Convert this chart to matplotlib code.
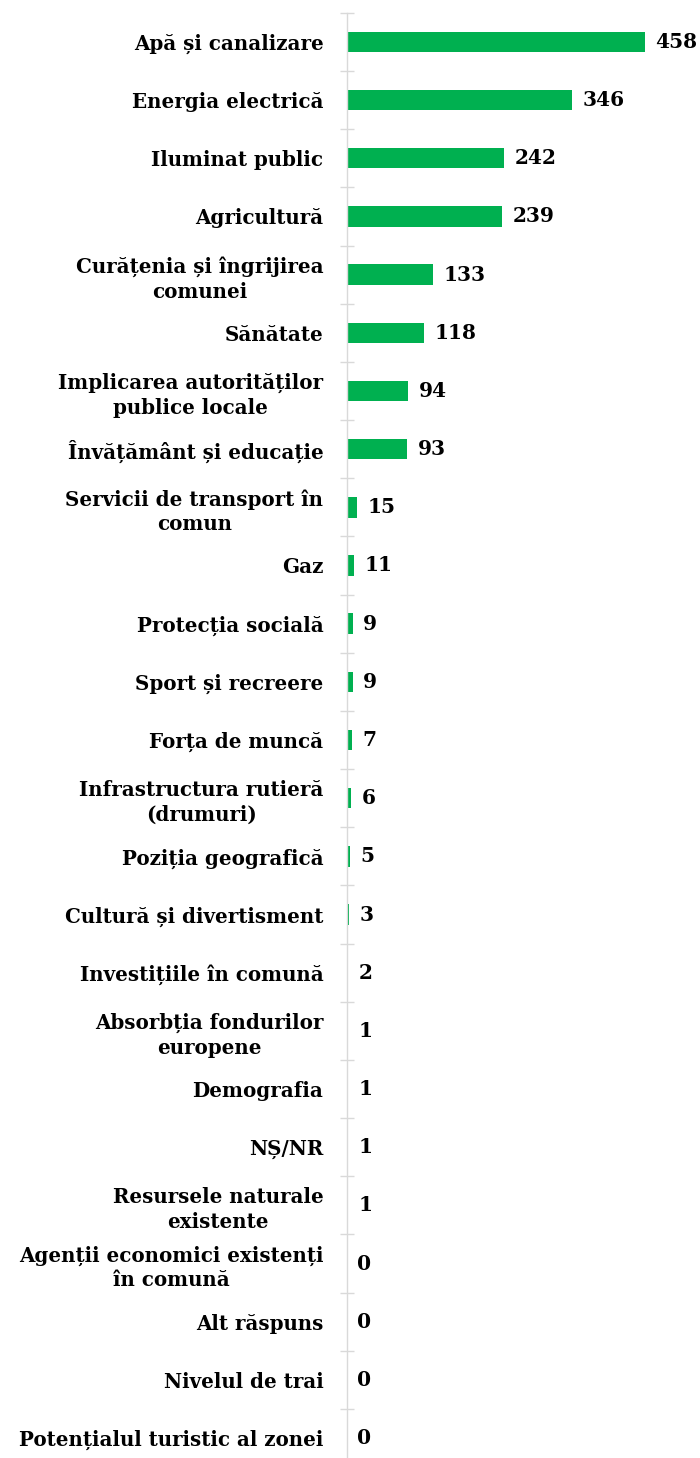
import matplotlib.pyplot as plt
import numpy as np

categories = [
    "Apă și canalizare",
    "Energia electrică",
    "Iluminat public",
    "Agricultură",
    "Curățenia și îngrijirea\ncomunei",
    "Sănătate",
    "Implicarea autorităților\npublice locale",
    "Învățământ și educație",
    "Servicii de transport în\ncomun",
    "Gaz",
    "Protecția socială",
    "Sport și recreere",
    "Forța de muncă",
    "Infrastructura rutieră\n(drumuri)",
    "Poziția geografică",
    "Cultură și divertisment",
    "Investițiile în comună",
    "Absorbția fondurilor\neuropene",
    "Demografia",
    "NȘ/NR",
    "Resursele naturale\nexistente",
    "Agenții economici existenți\nîn comună",
    "Alt răspuns",
    "Nivelul de trai",
    "Potențialul turistic al zonei",
]
values = [458, 346, 242, 239, 133, 118, 94, 93, 15, 11, 9, 9, 7, 6, 5, 3, 2, 1, 1, 1, 1, 0, 0, 0, 0]

plt.rcParams['font.family'] = ['DejaVu Serif']
plt.rcParams['font.weight'] = 'bold'

fig = plt.figure(figsize=(7, 14.58), dpi=100)
H = 1458
top_px, bot_px = 12.9, 1467.1
ax = fig.add_axes([347 / 700, (H - bot_px) / H, 325 / 700, (bot_px - top_px) / H])

y = np.arange(len(categories))
ax.barh(y, values, height=0.35, color="#00B050", zorder=2)
ax.set_xlim(0, 500)
ax.set_ylim(len(categories) - 0.5, -0.5)

# value labels just past the bar ends
for yi, v in zip(y, values):
    ax.annotate(str(v), (v, yi), xytext=(7.5, 0), textcoords="offset points",
                ha="left", va="center", fontsize=14.5, fontweight="bold", color="black")

ax.set_yticks(y)
ax.set_yticklabels(categories, fontsize=14.3, fontweight="bold", multialignment="center",
                   linespacing=1.3)
ax.set_yticks(np.arange(len(categories) + 1) - 0.5, minor=True)
ax.tick_params(axis="y", which="major", length=0, pad=17)
ax.tick_params(axis="y", which="minor", length=10, direction="inout", color="#d9d9d9", width=1)
ax.set_xticks([])

for s in ["top", "right", "bottom"]:
    ax.spines[s].set_visible(False)
ax.spines["left"].set_color("#d9d9d9")
ax.spines["left"].set_linewidth(1)

fig.savefig("out.png", dpi=100)
